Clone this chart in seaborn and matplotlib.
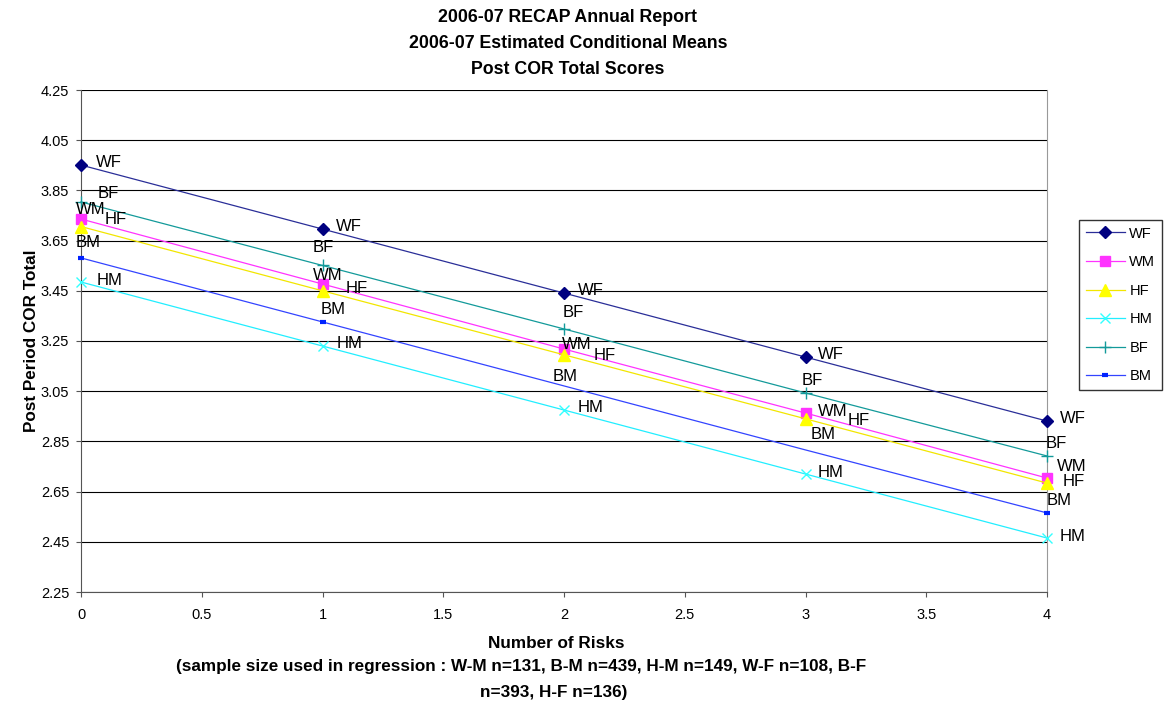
import matplotlib
matplotlib.use("Agg")
import matplotlib.pyplot as plt
import seaborn as sns
import pandas as pd

risks = [0, 1, 2, 3, 4]
series_names = ["WF", "WM", "HF", "HM", "BF", "BM"]
wf = [3.951, 3.696, 3.441, 3.186, 2.931]
wm = [3.736, 3.477, 3.218, 2.963, 2.704]
hf = [3.706, 3.450, 3.195, 2.940, 2.684]
hm = [3.485, 3.230, 2.975, 2.720, 2.465]
bf = [3.804, 3.551, 3.298, 3.043, 2.792]
bm = [3.581, 3.326, 3.071, 2.816, 2.565]
yticks = [2.25, 2.45, 2.65, 2.85, 3.05, 3.25, 3.45, 3.65, 3.85, 4.05, 4.25]
xticks = [0, 0.5, 1, 1.5, 2, 2.5, 3, 3.5, 4]

title_lines = ["2006-07 RECAP Annual Report", "2006-07 Estimated Conditional Means",
               "Post COR Total Scores"]
xlabel = "Number of Risks"
note_lines = ["(sample size used in regression : W-M n=131, B-M n=439, H-M n=149, W-F n=108, B-F",
              "n=393, H-F n=136)"]
ylabel = "Post Period COR Total"

values = {"WF": wf, "WM": wm, "HF": hf, "HM": hm, "BF": bf, "BM": bm}

styles = {
    "WF": dict(color="#000080", marker="D", ms=6.5, line="#2a2e98", mew=1, every=None),
    "WM": dict(color="#FF33FF", marker="s", ms=7.5, line="#FF33FF", mew=1, every=None),
    "HF": dict(color="#FFFF00", marker="^", ms=8.5, line="#F2E600", mew=1, every=None),
    "HM": dict(color="#33FFFF", marker="x", ms=7.5, line="#22EEFF", mew=1, every=None),
    "BF": dict(color="#139A9A", marker="+", ms=8.5, line="#139A9A", mew=1, every=None),
    "BM": dict(color="#0022FF", marker="_", ms=5, line="#3344FF", mew=3, every=[0, 1, 4]),
}

# label offsets in points per series per point
offsets = {
    "WF": [(11, 2), (10, 2), (10, 1.5), (9, 2), (9, 2)],
    "WM": [(-4, 7), (-7, 6), (-1.5, 3.5), (9, 1), (7, 8)],
    "HF": [(17, 5), (17, 2), (21, -0.5), (30, -1), (11, 1)],
    "HM": [(11, 1), (10, 1.5), (10, 1.5), (9, 1), (9, 1)],
    "BF": [(12, 6), (-7, 13), (-0.7, 11.5), (-3, 9), (-1, 9)],
    "BM": [(-4, 11), (-1, 9), (-8, 6.5), (4, 11), (0, 9)],
}

plt.rcParams['font.family'] = ['Liberation Sans', 'DejaVu Sans']
fig = plt.figure(figsize=(11.7, 7.06), dpi=100)
ax = fig.add_axes([81 / 1170, 1 - 592 / 706, 966 / 1170, 502 / 706])

rows = []
for name in series_names:
    for x, y in zip(risks, values[name]):
        rows.append({"risks": x, "value": y, "series": name})
df = pd.DataFrame(rows)

for name in series_names:
    st = styles[name]
    sub = df[df["series"] == name]
    sns.lineplot(data=sub, x="risks", y="value", ax=ax, color=st["line"], lw=0.9,
                 marker=st["marker"], markersize=st["ms"], markerfacecolor=st["color"],
                 markeredgecolor=st["color"], markeredgewidth=st["mew"],
                 markevery=st["every"], label=name, zorder=3, clip_on=False)
    for (x, y), off in zip(zip(sub["risks"], sub["value"]), offsets[name]):
        ax.annotate(name, (x, y), xytext=off, textcoords="offset points",
                    ha="left", va="center", fontsize=12, color="black", zorder=5,
                    annotation_clip=False)

ax.set_xlim(0, 4)
ax.set_ylim(2.25, 4.25)
ax.set_xticks(xticks)
ax.set_xticklabels([f"{t:g}" for t in xticks], fontsize=10.5)
ax.set_yticks(yticks)
ax.set_yticklabels([f"{t:.2f}" for t in yticks], fontsize=10.5)
ax.yaxis.grid(True, color="black", lw=0.8)
ax.xaxis.grid(False)
ax.set_axisbelow(True)
ax.spines["top"].set_visible(False)
ax.spines["right"].set_color("#999999")
ax.spines["left"].set_color("#555555")
ax.spines["bottom"].set_color("#555555")
ax.tick_params(axis="y", direction="out", length=3.5, color="#555555", pad=5)
ax.tick_params(axis="x", direction="out", length=3.5, color="#555555", pad=8)

ax.set_xlabel("")
ax.set_ylabel(ylabel, fontsize=12.3, fontweight="bold", labelpad=1)

fig.text(556 / 1170, 1 - 643 / 706, xlabel, ha="center", va="center",
         fontsize=12.3, fontweight="bold")
fig.text(521 / 1170, 1 - 667 / 706, note_lines[0], ha="center", va="center",
         fontsize=12.3, fontweight="bold")
fig.text(554 / 1170, 1 - 692 / 706, note_lines[1], ha="center", va="center",
         fontsize=12.3, fontweight="bold")

for i, line in enumerate(title_lines):
    fig.text(568 / 1170, 1 - (18 + 25.5 * i) / 706, line, ha="center", va="center",
             fontsize=12.8, fontweight="bold")

leg = ax.legend(loc="upper left", bbox_to_anchor=(1079 / 1170, 1 - 220 / 706),
                bbox_transform=fig.transFigure, frameon=True, fancybox=False,
                edgecolor="black", fontsize=10.5, handlelength=2.7, borderpad=0.45,
                labelspacing=1.0, handletextpad=0.3, borderaxespad=0)
leg.get_frame().set_linewidth(1)

fig.savefig("out.png", dpi=100)
